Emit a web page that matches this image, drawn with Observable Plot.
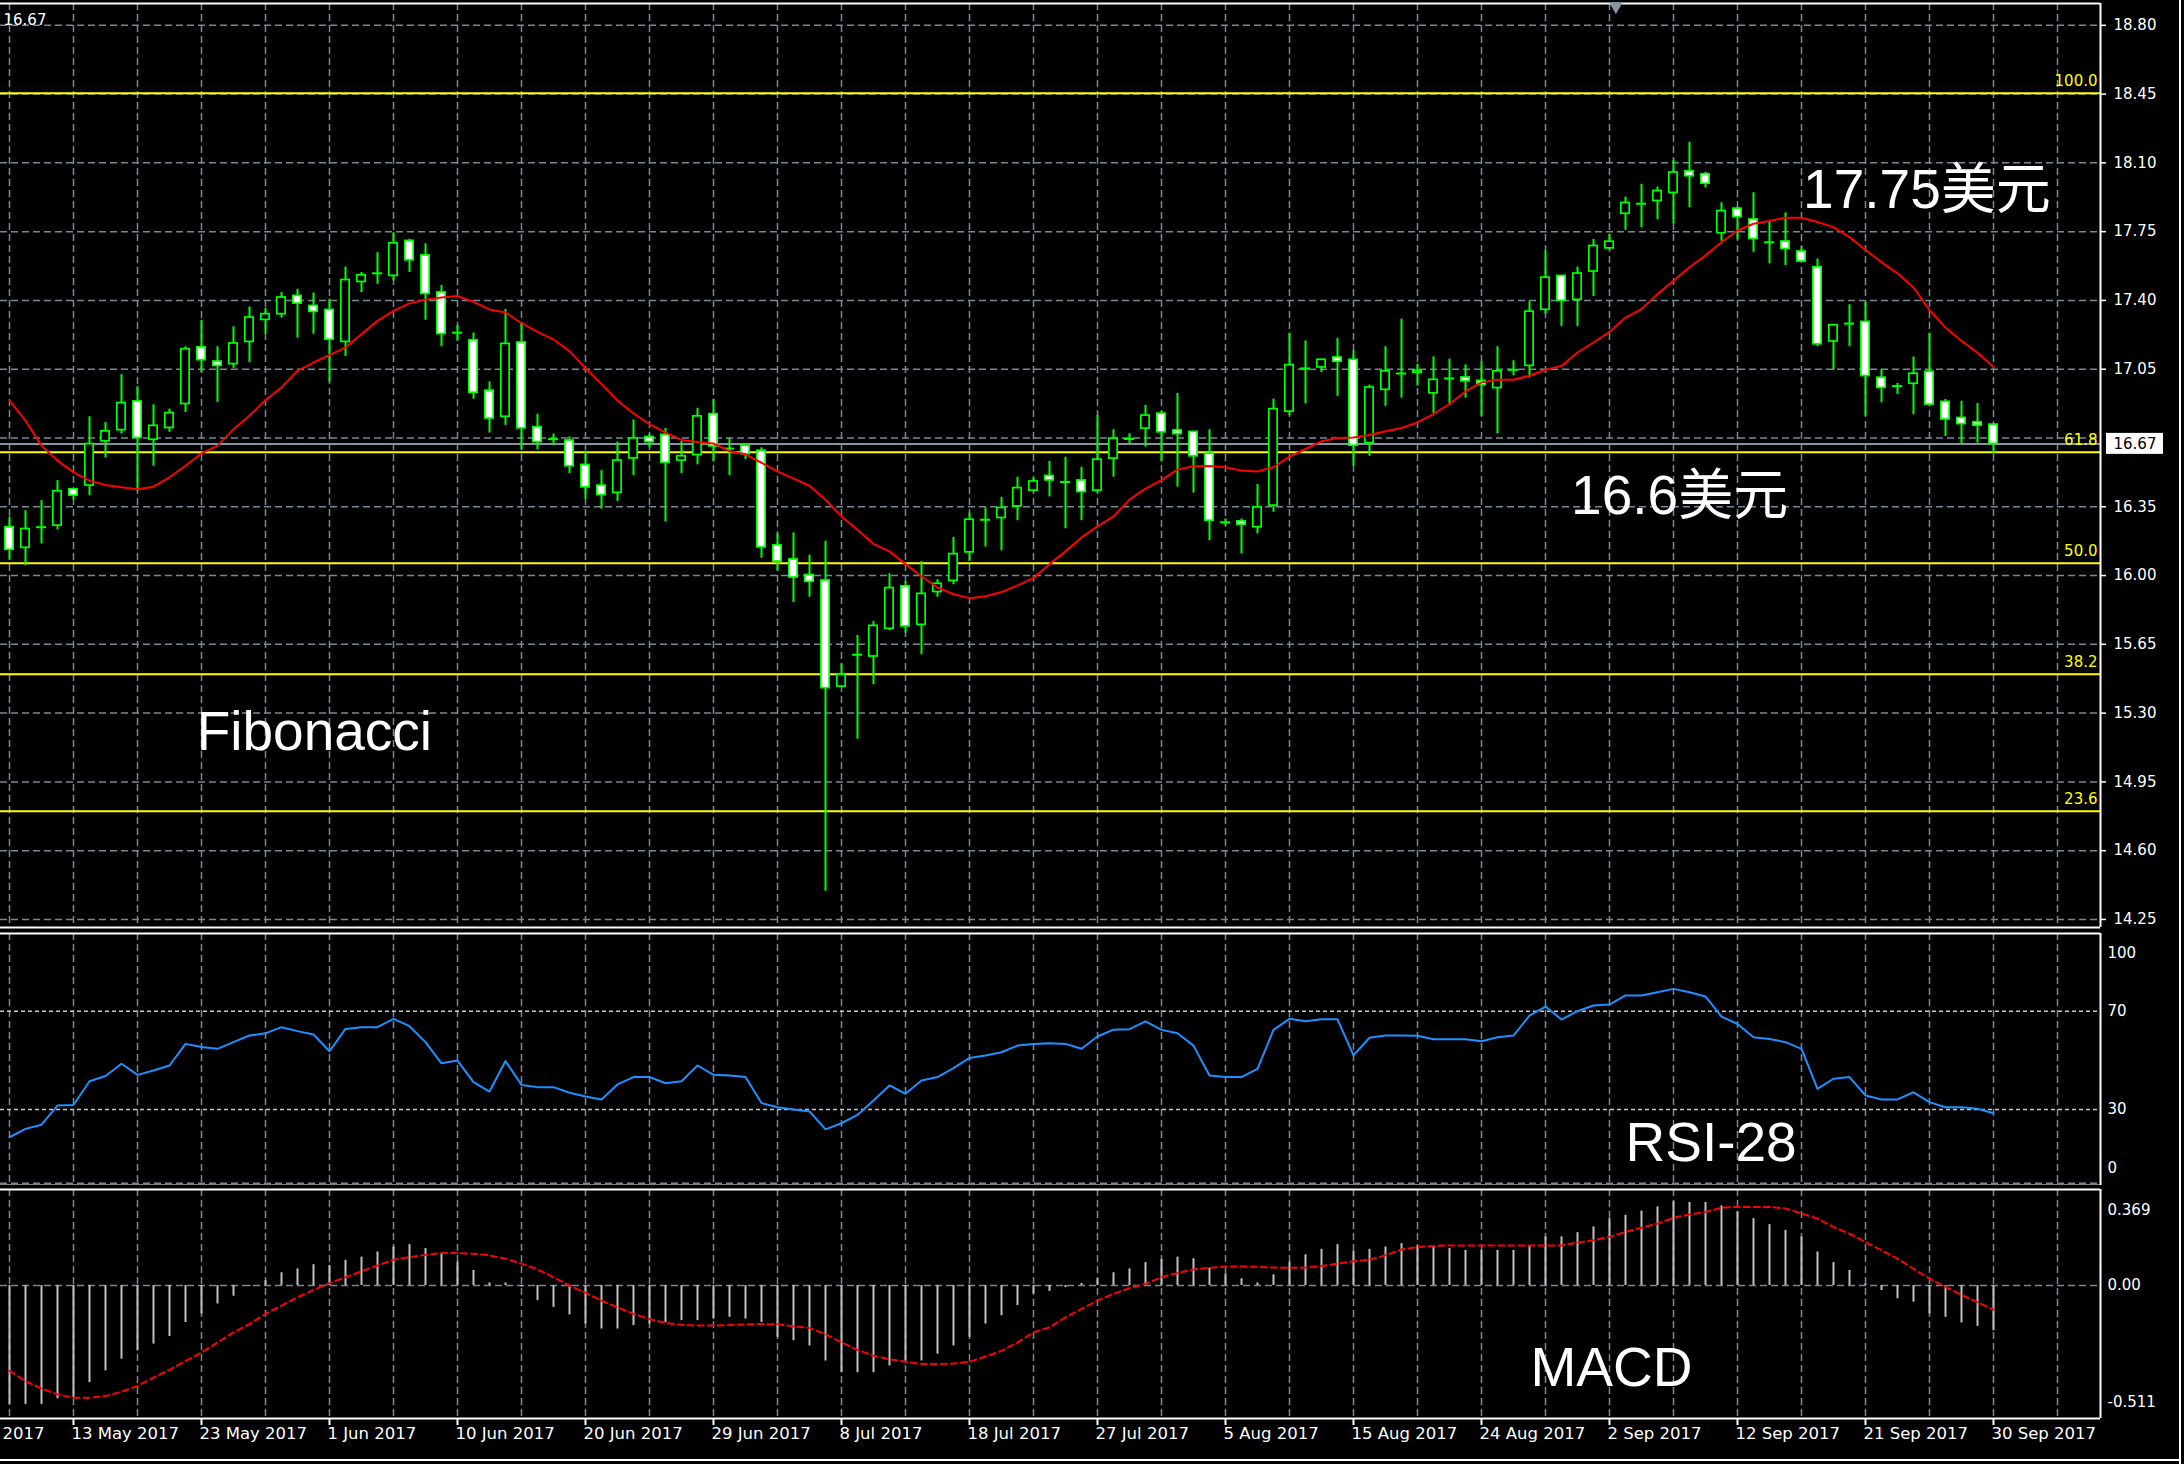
<!DOCTYPE html>
<html><head><meta charset="utf-8">
<script src="https://cdn.jsdelivr.net/npm/d3@7"></script>
<script src="https://cdn.jsdelivr.net/npm/@observablehq/plot@0.6"></script>
<style>
html,body{margin:0;padding:0;background:#000;}
#chart{position:relative;width:2184px;height:1464px;background:#000;overflow:hidden;}
#chart svg{position:absolute;left:0;display:block;overflow:hidden !important;max-width:none !important;}
.edge{position:absolute;background:#fff;}
</style></head><body><div id="chart"></div>
<script>
// ---------- data ----------
const opens = [16.246,16.141,16.246,16.254,16.439,16.458,16.683,16.740,16.886,16.691,
16.751,16.873,17.161,17.089,17.076,17.189,17.301,17.330,17.423,17.372,
17.352,17.189,17.494,17.538,17.525,17.703,17.629,17.441,17.236,17.197,
16.941,16.808,17.186,16.755,16.694,16.687,16.563,16.458,16.421,16.596,
16.705,16.716,16.585,16.613,16.821,16.646,16.661,16.635,16.154,16.082,
16.003,15.975,15.435,15.597,15.588,15.729,15.945,15.749,15.916,15.973,
16.118,16.284,16.293,16.352,16.432,16.507,16.476,16.484,16.432,16.595,
16.695,16.748,16.824,16.739,16.731,16.620,16.271,16.276,16.246,16.356,
16.834,17.054,17.059,17.110,17.098,16.674,16.945,17.028,17.032,16.927,
17.003,17.008,16.991,16.954,17.047,17.067,17.352,17.525,17.403,17.547,
17.665,17.841,17.892,17.906,17.947,18.057,18.042,17.742,17.867,17.812,
17.696,17.700,17.649,17.569,17.191,17.282,17.291,17.007,16.964,16.976,
17.037,16.884,16.802,16.780,16.768];
const highs = [16.297,16.330,16.381,16.483,16.440,16.808,16.779,17.022,16.961,16.869,
16.847,17.164,17.299,17.164,17.266,17.367,17.360,17.440,17.457,17.438,
17.406,17.570,17.542,17.643,17.745,17.711,17.688,17.476,17.273,17.234,
16.985,17.354,17.288,16.821,16.720,16.705,16.633,16.534,16.679,16.792,
16.720,16.749,16.683,16.851,16.897,16.698,16.672,16.650,16.213,16.217,
16.104,16.174,15.551,15.695,15.766,16.009,15.970,16.072,15.979,16.194,
16.318,16.344,16.398,16.500,16.496,16.581,16.602,16.551,16.815,16.742,
16.722,16.866,16.836,16.926,16.734,16.742,16.288,16.288,16.463,16.898,
17.233,17.194,17.101,17.206,17.144,16.969,17.164,17.305,17.076,17.113,
17.101,17.072,17.089,17.164,17.093,17.394,17.652,17.525,17.570,17.711,
17.737,17.926,17.991,17.977,18.114,18.204,18.051,17.897,17.875,17.948,
17.799,17.846,17.671,17.611,17.274,17.378,17.390,17.049,16.978,17.112,
17.233,16.896,16.887,16.875,16.773];
const lows = [16.080,16.051,16.161,16.232,16.385,16.407,16.598,16.720,16.427,16.556,
16.729,16.830,17.033,16.881,17.054,17.084,17.228,17.310,17.208,17.228,
16.983,17.115,17.440,17.482,17.499,17.542,17.299,17.164,17.192,16.897,
16.725,16.764,16.639,16.639,16.661,16.519,16.388,16.338,16.377,16.508,
16.650,16.272,16.519,16.563,16.578,16.508,16.591,16.088,16.023,15.863,
15.890,14.394,15.430,15.167,15.444,15.719,15.707,15.597,15.890,15.953,
16.072,16.145,16.126,16.279,16.425,16.400,16.238,16.279,16.420,16.501,
16.669,16.654,16.578,16.450,16.420,16.177,16.254,16.110,16.212,16.322,
16.813,16.873,17.033,16.912,16.556,16.607,16.861,16.903,16.964,16.825,
16.864,16.903,16.810,16.720,17.017,17.005,17.330,17.267,17.267,17.420,
17.655,17.756,17.770,17.810,17.790,17.872,17.972,17.701,17.708,17.645,
17.586,17.577,17.594,17.165,17.044,17.165,16.811,16.879,16.921,16.819,
16.862,16.708,16.671,16.674,16.618];
const closes = [16.131,16.237,16.246,16.429,16.407,16.669,16.734,16.878,16.700,16.762,
16.827,17.152,17.096,17.067,17.181,17.313,17.330,17.415,17.384,17.342,
17.200,17.504,17.528,17.538,17.691,17.604,17.433,17.229,17.236,16.930,
16.799,17.179,16.749,16.679,16.694,16.556,16.449,16.410,16.585,16.698,
16.679,16.574,16.607,16.810,16.657,16.646,16.617,16.143,16.071,15.990,
15.968,15.427,15.495,15.597,15.744,15.936,15.741,15.907,15.958,16.109,
16.284,16.284,16.344,16.445,16.479,16.484,16.476,16.425,16.590,16.697,
16.695,16.814,16.729,16.720,16.607,16.279,16.271,16.259,16.347,16.847,
17.071,17.054,17.098,17.088,16.661,16.957,17.039,17.028,17.042,16.996,
17.003,16.988,16.969,17.039,17.047,17.343,17.516,17.398,17.537,17.677,
17.699,17.896,17.892,17.957,18.051,18.032,17.994,17.855,17.824,17.713,
17.696,17.662,17.598,17.177,17.274,17.282,17.015,16.955,16.964,17.027,
16.870,16.794,16.771,16.763,16.670];
const movingAverage = [16.890,16.788,16.661,16.585,16.525,16.483,16.461,16.449,16.439,16.452,
16.500,16.559,16.622,16.661,16.745,16.813,16.893,16.957,17.042,17.084,
17.122,17.161,17.228,17.296,17.347,17.385,17.404,17.415,17.422,17.393,
17.354,17.339,17.284,17.240,17.201,17.142,17.055,16.974,16.891,16.825,
16.770,16.727,16.690,16.679,16.672,16.633,16.617,16.574,16.530,16.493,
16.457,16.386,16.301,16.233,16.160,16.123,16.058,15.995,15.939,15.905,
15.885,15.895,15.916,15.950,15.987,16.058,16.123,16.194,16.250,16.301,
16.386,16.442,16.486,16.539,16.556,16.557,16.551,16.534,16.530,16.551,
16.605,16.644,16.683,16.700,16.703,16.715,16.734,16.751,16.779,16.822,
16.873,16.937,16.983,16.996,16.996,17.017,17.047,17.067,17.135,17.186,
17.240,17.313,17.356,17.432,17.500,17.569,17.628,17.696,17.756,17.790,
17.804,17.821,17.821,17.799,17.773,17.722,17.657,17.594,17.538,17.466,
17.351,17.262,17.194,17.134,17.061];
const rsi28 = [18.7,22.1,23.8,31.6,31.8,41.5,43.6,48.6,44.1,45.9,
47.9,56.7,55.4,54.7,57.4,60.1,61.0,63.5,61.9,60.5,
53.7,62.8,63.5,63.5,66.9,63.9,57.4,48.8,49.9,41.1,
37.3,49.7,40.0,39.1,39.1,36.8,35.3,34.1,40.2,43.2,
43.2,40.7,41.5,47.9,44.1,43.8,43.2,32.6,30.9,30.0,
29.2,21.9,24.4,27.8,33.7,39.8,36.4,41.8,43.2,46.8,
51.0,52.0,53.3,56.0,56.7,57.0,56.7,54.7,59.7,62.5,
62.7,65.9,62.4,61.0,56.0,43.8,43.2,43.2,46.5,62.4,
66.9,65.9,66.7,66.7,52.0,59.2,60.1,60.1,60.0,58.6,
58.6,58.6,57.8,59.4,60.1,68.2,71.9,66.6,70.0,72.3,
72.7,76.4,76.4,77.7,79.1,77.7,76.0,67.8,64.8,59.4,
58.7,57.4,54.7,38.4,42.5,43.2,35.7,34.1,34.1,37.0,
33.0,30.9,30.9,30.3,28.5];
const macdMain = [-0.457,-0.457,-0.457,-0.435,-0.431,-0.373,-0.328,-0.283,-0.251,-0.225,
-0.196,-0.142,-0.109,-0.071,-0.041,-0.003,0.019,0.049,0.064,0.080,
0.077,0.097,0.109,0.129,0.148,0.157,0.142,0.122,0.090,0.058,
0.010,0.010,-0.006,-0.058,-0.084,-0.113,-0.148,-0.167,-0.167,-0.154,
-0.148,-0.142,-0.135,-0.135,-0.129,-0.122,-0.129,-0.142,-0.199,-0.212,
-0.232,-0.290,-0.335,-0.335,-0.335,-0.309,-0.290,-0.290,-0.264,-0.232,
-0.199,-0.148,-0.116,-0.077,-0.032,-0.023,-0.008,0.008,0.025,0.049,
0.064,0.088,0.100,0.109,0.103,0.067,0.045,0.026,0.010,0.041,
0.090,0.118,0.139,0.157,0.131,0.139,0.148,0.161,0.152,0.152,
0.142,0.135,0.135,0.135,0.135,0.154,0.187,0.187,0.203,0.225,
0.257,0.270,0.286,0.302,0.322,0.319,0.319,0.306,0.283,0.257,
0.234,0.212,0.187,0.129,0.088,0.058,0.006,-0.019,-0.051,-0.064,
-0.109,-0.122,-0.144,-0.157,-0.174];
const macdSignal = [-0.328,-0.367,-0.396,-0.418,-0.431,-0.431,-0.425,-0.408,-0.386,-0.354,
-0.324,-0.290,-0.257,-0.219,-0.180,-0.148,-0.109,-0.077,-0.045,-0.017,
0.009,0.032,0.055,0.077,0.099,0.109,0.118,0.125,0.125,0.122,
0.116,0.103,0.084,0.062,0.032,0.000,-0.028,-0.058,-0.084,-0.109,
-0.129,-0.144,-0.151,-0.154,-0.154,-0.152,-0.149,-0.148,-0.149,-0.157,
-0.163,-0.187,-0.219,-0.247,-0.270,-0.283,-0.293,-0.302,-0.302,-0.300,
-0.293,-0.273,-0.251,-0.219,-0.180,-0.161,-0.122,-0.090,-0.058,-0.032,
-0.010,0.006,0.032,0.048,0.062,0.068,0.073,0.073,0.072,0.069,
0.068,0.069,0.075,0.084,0.093,0.099,0.116,0.138,0.148,0.152,
0.154,0.154,0.154,0.154,0.154,0.154,0.154,0.154,0.165,0.174,
0.187,0.206,0.222,0.238,0.260,0.273,0.283,0.299,0.302,0.302,
0.302,0.296,0.277,0.257,0.225,0.199,0.167,0.135,0.103,0.064,
0.026,-0.006,-0.036,-0.064,-0.093];

const priceGrid = [18.80,18.45,18.10,17.75,17.40,17.05,16.70,16.35,16.00,15.65,15.30,14.95,14.60,14.25];
const priceLabelValues = [18.80,18.45,18.10,17.75,17.40,17.05,16.35,16.00,15.65,15.30,14.95,14.60,14.25];
const priceLabels = ["18.80","18.45","18.10","17.75","17.40","17.05","16.35","16.00","15.65","15.30","14.95","14.60","14.25"];
const fibLabels = ["100.0","61.8","50.0","38.2","23.6"];
const fibPrices = [18.454,16.628,16.062,15.498,14.800];
const rsiLevels = [70, 30];
const rsiLevelLabels = ["70","30"];
const macdLabels = ["0.369","0.00","-0.511"];
const firstDateLabel = "2017";
const dateBars = [4,12,20,28,36,44,52,60,68,76,84,92,100,108,116,124];
const dateLabels = ["13 May 2017","23 May 2017","1 Jun 2017","10 Jun 2017","20 Jun 2017","29 Jun 2017","8 Jul 2017","18 Jul 2017","27 Jul 2017","5 Aug 2017","15 Aug 2017","24 Aug 2017","2 Sep 2017","12 Sep 2017","21 Sep 2017","30 Sep 2017"];

// ---------- table ----------
const n = closes.length;
const bars = d3.range(n).map(i => ({i, open: opens[i], high: highs[i], low: lows[i], close: closes[i],
  ma: movingAverage[i], rsi: rsi28[i], macd: macdMain[i], sig: macdSignal[i]}));
const lastClose = closes[n - 1];

// ---------- style ----------
const X_DOMAIN = [-0.5625, 130.6875];
const gridBars = d3.range(0, 129, 4);
const GRID = {stroke: "#778899", strokeWidth: 1.5, strokeDasharray: "7,4", strokeOpacity: 1};
const SMALL = "'DejaVu Sans', Verdana, sans-serif";
const BIG = "'Liberation Sans', Arial, 'Noto Sans CJK SC', sans-serif";
const GREEN = "#00ff00";
const common = {
  width: 2184, marginLeft: 0, marginRight: 84,
  x: {domain: X_DOMAIN, axis: null},
  style: {background: "#000", color: "#fff", fontFamily: SMALL, fontSize: "15px", overflow: "hidden"}
};
function frameRules(yDomain) {
  return [
    Plot.ruleY([yDomain[0], yDomain[1]], {stroke: "#fff", strokeWidth: 2}),
    Plot.ruleX([X_DOMAIN[1]], {stroke: "#fff", strokeWidth: 2})
  ];
}
const bigText = {fill: "#fff", fontFamily: BIG, fontSize: 55, textAnchor: "start"};

// ---------- main price panel ----------
const Y_MAIN = [14.209, 18.911];
const mainPlot = Plot.plot({
  ...common, height: 930, marginTop: 3, marginBottom: 3,
  y: {domain: Y_MAIN, axis: null},
  marks: [
    Plot.gridY({ticks: priceGrid, ...GRID}),
    Plot.gridX({ticks: gridBars, ...GRID}),
    Plot.ruleY(fibPrices, {stroke: "#ffff00", strokeWidth: 2}),
    Plot.ruleY([lastClose], {stroke: "#8593a3", strokeWidth: 2}),
    Plot.ruleX(bars, {x: "i", y1: "low", y2: "high", stroke: GREEN, strokeWidth: 2}),
    Plot.rect(bars.filter(d => d.close > d.open), {x1: d => d.i - 0.26, x2: d => d.i + 0.26, y1: "open", y2: "close", fill: "#000", stroke: GREEN, strokeWidth: 1.7}),
    Plot.rect(bars.filter(d => d.close < d.open), {x1: d => d.i - 0.26, x2: d => d.i + 0.26, y1: "open", y2: "close", fill: "#fff", stroke: GREEN, strokeWidth: 1.7}),
    Plot.ruleY(bars.filter(d => d.close === d.open), {y: "open", x1: d => d.i - 0.32, x2: d => d.i + 0.32, stroke: GREEN, strokeWidth: 2}),
    Plot.line(bars, {x: "i", y: "ma", stroke: "#ff0000", strokeWidth: 2}),
    ...frameRules(Y_MAIN),
    Plot.ruleY(priceLabelValues, {x1: X_DOMAIN[1], x2: X_DOMAIN[1], insetRight: -6, stroke: "#fff", strokeWidth: 1.5}),
    Plot.text(priceLabelValues, {y: d => d, text: (d, i) => priceLabels[i], frameAnchor: "right", dx: 13, textAnchor: "start", fill: "#fff"}),
    Plot.text(fibLabels, {y: (d, i) => fibPrices[i], text: d => d, frameAnchor: "right", dx: -3, dy: -12, textAnchor: "end", fill: "#ffff00"}),
    Plot.text([lastClose], {text: d => d.toFixed(2), frameAnchor: "top-left", dx: 3, dy: 11, textAnchor: "start", fill: "#fff"}),
    Plot.dot([100.4], {x: d => d, frameAnchor: "top", symbol: "triangle", rotate: 180, r: 5, fill: "#8593a3", dy: 3}),
    Plot.text([{label: "17.75美元", bar: 112.1, price: 17.96}], {x: "bar", y: "price", text: "label", ...bigText}),
    Plot.text([{label: "16.6美元", bar: 97.6, price: 16.403}], {x: "bar", y: "price", text: "label", ...bigText}),
    Plot.text([{label: "Fibonacci", bar: 11.7, price: 15.202}], {x: "bar", y: "price", text: "label", ...bigText}),
    Plot.text([lastClose], {y: d => d, text: d => d.toFixed(2), frameAnchor: "right", dx: 13, textAnchor: "start", fill: "#000"})
  ]
});
mainPlot.style.top = "0px";

// price box behind the last-price label
{
  const ySc = mainPlot.scale("y"), xSc = mainPlot.scale("x");
  const yy = ySc.apply(lastClose), xr = xSc.apply(X_DOMAIN[1]);
  d3.select(mainPlot).insert("rect", ":scope > :last-child")
    .attr("x", xr + 6).attr("y", yy - 10.5).attr("width", 57).attr("height", 21).attr("fill", "#fff");
}

// ---------- RSI panel ----------
const Y_RSI = [-0.94, 101.63];
const rsiPlot = Plot.plot({
  ...common, height: 258, marginTop: 3, marginBottom: 3,
  y: {domain: Y_RSI, axis: null},
  marks: [
    Plot.gridX({ticks: gridBars, ...GRID}),
    Plot.gridY({ticks: [0], ...GRID}),
    Plot.ruleY(rsiLevels, {stroke: "#c8c8c8", strokeWidth: 1.5, strokeDasharray: "4,3"}),
    Plot.line(bars, {x: "i", y: "rsi", stroke: "#1e90ff", strokeWidth: 2}),
    ...frameRules(Y_RSI),
    Plot.text(rsiLevels, {y: d => d, text: (d, i) => rsiLevelLabels[i], frameAnchor: "right", dx: 7, textAnchor: "start", fill: "#fff"}),
    Plot.text(["100"], {text: d => d, frameAnchor: "top-right", dx: 7, dy: 14, textAnchor: "start", fill: "#fff"}),
    Plot.text(["0"], {text: d => d, frameAnchor: "bottom-right", dx: 7, dy: -13, textAnchor: "start", fill: "#fff"}),
    Plot.text([{label: "RSI-28", bar: 101.0, value: 16.2}], {x: "bar", y: "value", text: "label", ...bigText})
  ]
});
rsiPlot.style.top = "930px";

// ---------- MACD panel ----------
const Y_MACD = [-0.511, 0.369];
const macdPlot = Plot.plot({
  ...common, height: 279, marginTop: 4, marginBottom: 46,
  y: {domain: Y_MACD, axis: null},
  marks: [
    Plot.gridX({ticks: gridBars, ...GRID}),
    Plot.gridY({ticks: [0], ...GRID}),
    Plot.ruleX(bars, {x: "i", y1: 0, y2: "macd", stroke: "#c0c0c0", strokeWidth: 2}),
    Plot.line(bars, {x: "i", y: "sig", stroke: "#ff0000", strokeWidth: 2, strokeDasharray: "6,4"}),
    ...frameRules(Y_MACD),
    Plot.text(["0.00"], {y: () => 0, text: d => d, frameAnchor: "right", dx: 7, textAnchor: "start", fill: "#fff"}),
    Plot.text([macdLabels[0]], {text: d => d, frameAnchor: "top-right", dx: 7, dy: 15, textAnchor: "start", fill: "#fff"}),
    Plot.text([macdLabels[2]], {text: d => d, frameAnchor: "bottom-right", dx: 7, dy: -12, textAnchor: "start", fill: "#fff"}),
    Plot.ruleX(dateBars, {x: d => d, y1: Y_MACD[0], y2: Y_MACD[0], insetBottom: -7, stroke: "#fff", strokeWidth: 2}),
    Plot.text(dateLabels, {x: (d, i) => dateBars[i], text: d => d, frameAnchor: "bottom", dy: 20, dx: -2, textAnchor: "start", fill: "#fff", fontSize: 16.5}),
    Plot.text([firstDateLabel], {text: d => d, frameAnchor: "bottom-left", dy: 20, dx: 2, textAnchor: "start", fill: "#fff", fontSize: 16.5}),
    Plot.text([{label: "MACD", bar: 95.06, value: -0.319}], {x: "bar", y: "value", text: "label", ...bigText})
  ]
});
macdPlot.style.top = "1185px";

const chart = document.getElementById("chart");
chart.appendChild(mainPlot);
chart.appendChild(rsiPlot);
chart.appendChild(macdPlot);
// window frame (right and bottom edges)
const r = document.createElement("div"); r.className = "edge";
Object.assign(r.style, {left: "2179px", top: "0px", width: "2px", height: "1464px"});
const b = document.createElement("div"); b.className = "edge";
Object.assign(b.style, {left: "0px", top: "1459px", width: "2181px", height: "2px"});
chart.appendChild(r); chart.appendChild(b);
</script>
</body></html>
